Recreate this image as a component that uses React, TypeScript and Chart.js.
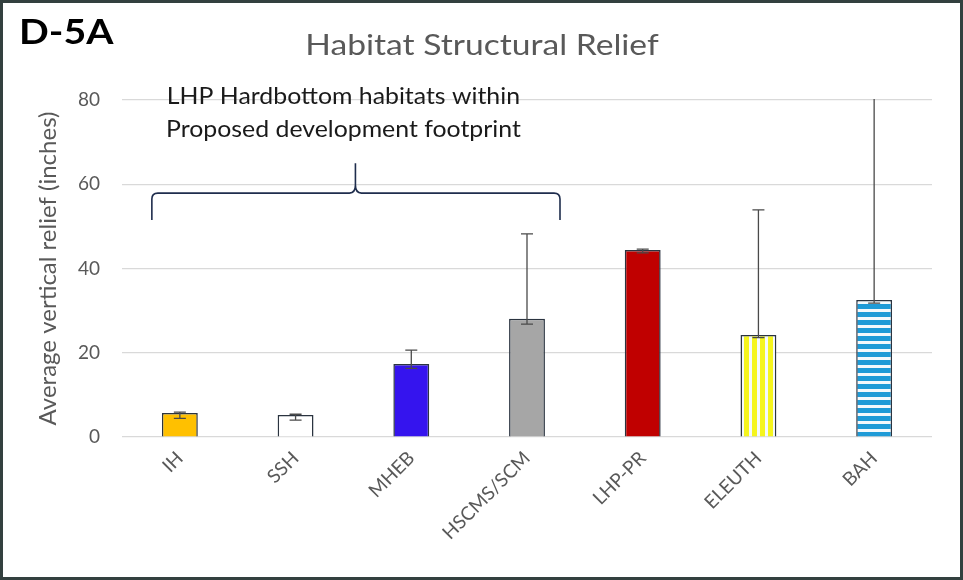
import React, { useEffect, useRef } from "react";
import { Chart, registerables } from "chart.js";

Chart.register(...registerables);

const categories = ["IH", "SSH", "MHEB", "HSCMS/SCM", "LHP-PR", "ELEUTH", "BAH"];
const means = [5.7, 5.2, 17.3, 28.1, 44.4, 24.2, 32.5];
const errPlus = [0.2, 0.2, 3.3, 20.1, 0.2, 29.7, 50];
const errMinus = [1.3, 1.2, 1.0, 1.3, 0.7, 0.6, 0.7];
const yTicks = [0, 20, 40, 60, 80];
const annotationLines = ["LHP Hardbottom habitats within", "Proposed development footprint"];

const FONT = "Lato, 'Open Sans', 'DejaVu Sans', sans-serif";

function makePattern(kind: "v" | "h", color: string): CanvasPattern | string {
  const c = document.createElement("canvas");
  c.width = 8;
  c.height = 8;
  const g = c.getContext("2d");
  if (!g) return color;
  g.fillStyle = "#f4f9fc";
  g.fillRect(0, 0, 8, 8);
  g.fillStyle = color;
  if (kind === "v") g.fillRect(0, 0, 5, 8);
  else g.fillRect(0, 0, 8, 5);
  const p = g.createPattern(c, "repeat");
  return p || color;
}

function stretchedText(ctx: CanvasRenderingContext2D, text: string, x: number, y: number, sx: number) {
  ctx.save();
  ctx.translate(x, y);
  ctx.scale(sx, 1);
  ctx.fillText(text, 0, 0);
  ctx.restore();
}

export default function App() {
  const ref = useRef<HTMLCanvasElement | null>(null);

  useEffect(() => {
    if (!ref.current) return;
    const yellowStripes = makePattern("v", "#f5f51e");
    const blueStripes = makePattern("h", "#1f9bd7");
    const fills: any[] = ["#ffc000", "#ffffff", "#3514ee", "#a6a6a6", "#c00000", yellowStripes, blueStripes];

    const errorBars = {
      id: "errorBars",
      afterDatasetsDraw(chart: any) {
        const ctx = chart.ctx;
        const meta = chart.getDatasetMeta(0);
        const y = chart.scales.y;
        const area = chart.chartArea;
        ctx.save();
        ctx.beginPath();
        ctx.rect(area.left, area.top - 1, area.right - area.left, area.bottom - area.top + 1);
        ctx.clip();
        ctx.strokeStyle = "#4a4a4a";
        ctx.lineWidth = 1.3;
        meta.data.forEach((bar: any, i: number) => {
          const x = bar.x;
          const hi = y.getPixelForValue(means[i] + errPlus[i]);
          const lo = y.getPixelForValue(means[i] - errMinus[i]);
          ctx.beginPath();
          ctx.moveTo(x, hi);
          ctx.lineTo(x, lo);
          ctx.moveTo(x - 6, hi);
          ctx.lineTo(x + 6, hi);
          ctx.moveTo(x - 6, lo);
          ctx.lineTo(x + 6, lo);
          ctx.stroke();
        });
        ctx.restore();
      },
    };

    const overlay = {
      id: "overlay",
      afterDraw(chart: any) {
        const ctx = chart.ctx;
        const xs = chart.scales.x;
        const ys = chart.scales.y;
        ctx.save();
        ctx.textBaseline = "middle";
        // panel label
        ctx.fillStyle = "#000000";
        ctx.font = `bold 35px ${FONT}`;
        ctx.textAlign = "left";
        stretchedText(ctx, "D-5A", 19, 33, 1.12);
        // title
        ctx.fillStyle = "#595959";
        ctx.font = `28px ${FONT}`;
        ctx.textAlign = "center";
        stretchedText(ctx, "Habitat Structural Relief", 482, 46, 1.2);
        // annotation
        const x0 = xs.getPixelForValue(0);
        const x3 = xs.getPixelForValue(3);
        const cx = (x0 + x3) / 2;
        ctx.fillStyle = "#1a1a1a";
        ctx.font = `23px ${FONT}`;
        stretchedText(ctx, annotationLines[0], cx - 10, ys.getPixelForValue(80.7), 1.08);
        stretchedText(ctx, annotationLines[1], cx - 10, ys.getPixelForValue(72.9), 1.08);
        // brace
        const left = x0 - 28;
        const right = x3 + 33;
        const yb = ys.getPixelForValue(51.5);
        const yh = ys.getPixelForValue(57.9);
        const yp = ys.getPixelForValue(65);
        const mid = cx + 2;
        ctx.strokeStyle = "#1f2d4d";
        ctx.lineWidth = 1.6;
        ctx.beginPath();
        ctx.moveTo(left, yb);
        ctx.lineTo(left, yh + 6);
        ctx.quadraticCurveTo(left, yh, left + 6, yh);
        ctx.lineTo(mid - 6, yh);
        ctx.quadraticCurveTo(mid, yh, mid, yh - 8);
        ctx.lineTo(mid, yp);
        ctx.moveTo(mid, yh - 8);
        ctx.quadraticCurveTo(mid, yh, mid + 6, yh);
        ctx.lineTo(right - 6, yh);
        ctx.quadraticCurveTo(right, yh, right, yh + 6);
        ctx.lineTo(right, yb);
        ctx.stroke();
        // frame
        ctx.strokeStyle = "#33403f";
        ctx.lineWidth = 3;
        ctx.strokeRect(1.5, 1.5, chart.width - 3, chart.height - 3);
        ctx.restore();
      },
    };

    const chart = new Chart(ref.current, {
      type: "bar",
      data: {
        labels: categories,
        datasets: [
          {
            data: means,
            backgroundColor: fills,
            borderColor: "#2b3440",
            borderWidth: 1.5,
            barPercentage: 0.31,
            categoryPercentage: 1,
          },
        ],
      },
      options: {
        animation: false,
        responsive: false,
        maintainAspectRatio: false,
        layout: { padding: { top: 100, right: 31, left: 34, bottom: 0 } },
        plugins: { legend: { display: false }, tooltip: { enabled: false }, title: { display: false } },
        scales: {
          x: {
            grid: { display: false },
            border: { display: false },
            ticks: {
              color: "#595959",
              font: { size: 19, family: FONT },
              maxRotation: 45,
              minRotation: 45,
              padding: 2,
            },
            afterFit: (s: any) => {
              s.height = 143;
            },
          },
          y: {
            min: 0,
            max: 80,
            afterBuildTicks: (s: any) => {
              s.ticks = yTicks.map((v) => ({ value: v }));
            },
            grid: { color: "#d9d9d9", lineWidth: 1.2, drawTicks: false },
            border: { display: false },
            ticks: { color: "#595959", font: { size: 19, family: FONT }, padding: 22 },
            title: {
              display: true,
              text: "Average vertical relief (inches)",
              color: "#595959",
              font: { size: 24, family: FONT },
              padding: { top: 0, bottom: 0 },
            },
            afterFit: (s: any) => {
              s.width = 88;
            },
          },
        },
      },
      plugins: [errorBars, overlay],
    });
    return () => chart.destroy();
  }, []);

  return (
    <div style={{ position: "fixed", left: 0, top: 0, width: 963, height: 580, background: "#fff" }}>
      <canvas ref={ref} width={963} height={580} style={{ width: 963, height: 580, display: "block" }} />
    </div>
  );
}
